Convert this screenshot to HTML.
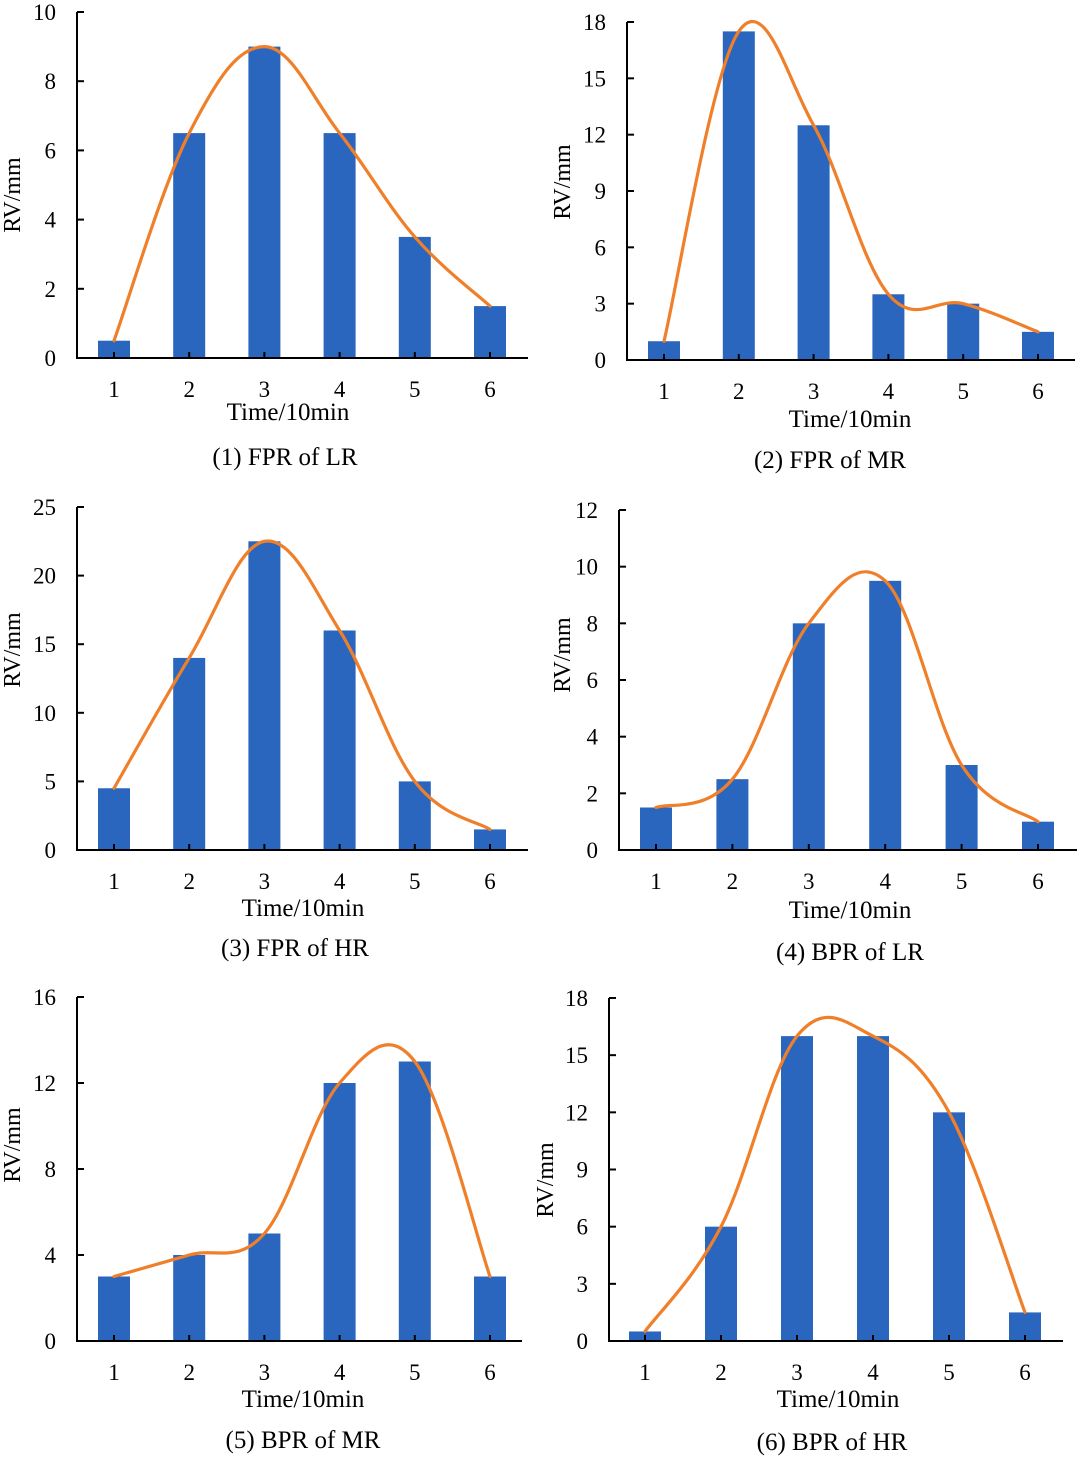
<!DOCTYPE html>
<html><head><meta charset="utf-8"><style>
html,body{margin:0;padding:0;background:#fff;}
svg{display:block;font-family:"Liberation Serif",serif;}
</style></head><body>
<svg id="chart" width="1080" height="1457" viewBox="0 0 1080 1457" xmlns="http://www.w3.org/2000/svg"></svg>
<script>
const categories = ["1","2","3","4","5","6"];
const seriesFPR_LR = [0.5, 6.5, 9, 6.5, 3.5, 1.5];
const seriesFPR_MR = [1, 17.5, 12.5, 3.5, 3, 1.5];
const seriesFPR_HR = [4.5, 14, 22.5, 16, 5, 1.5];
const seriesBPR_LR = [1.5, 2.5, 8, 9.5, 3, 1];
const seriesBPR_MR = [3, 4, 5, 12, 13, 3];
const seriesBPR_HR = [0.5, 6, 16, 16, 12, 1.5];
const ticksFPR_LR = [0, 2, 4, 6, 8, 10];
const ticksFPR_MR = [0, 3, 6, 9, 12, 15, 18];
const ticksFPR_HR = [0, 5, 10, 15, 20, 25];
const ticksBPR_LR = [0, 2, 4, 6, 8, 10, 12];
const ticksBPR_MR = [0, 4, 8, 12, 16];
const ticksBPR_HR = [0, 3, 6, 9, 12, 15, 18];
const captions = ["(1) FPR of LR","(2) FPR of MR","(3) FPR of HR","(4) BPR of LR","(5) BPR of MR","(6) BPR of HR"];

const panels = [
 {vals:seriesFPR_LR,ticks:ticksFPR_LR,ax:77,top:12,bot:358,right:528,c0:114,step:75.2,yt:[12,195],xt:[288,411],cap:[285,456]},
 {vals:seriesFPR_MR,ticks:ticksFPR_MR,ax:627,top:22,bot:360,right:1075,c0:664,step:74.8,yt:[562,182],xt:[850,418],cap:[830,459]},
 {vals:seriesFPR_HR,ticks:ticksFPR_HR,ax:77,top:507,bot:850,right:528,c0:114,step:75.2,yt:[12,650],xt:[303,907],cap:[295,947]},
 {vals:seriesBPR_LR,ticks:ticksBPR_LR,ax:619,top:510,bot:850,right:1077,c0:656,step:76.4,yt:[562,655],xt:[850,909],cap:[850,951]},
 {vals:seriesBPR_MR,ticks:ticksBPR_MR,ax:77,top:997,bot:1341,right:522,c0:114,step:75.2,yt:[12,1145],xt:[303,1398],cap:[303,1439]},
 {vals:seriesBPR_HR,ticks:ticksBPR_HR,ax:609,top:998,bot:1341,right:1063,c0:645,step:76,yt:[545,1180],xt:[838,1398],cap:[832,1441]}
];
const svg = document.getElementById('chart');
const NS = "http://www.w3.org/2000/svg";
function mk(tag, attrs, parent){const e=document.createElementNS(NS,tag);for(const k in attrs)e.setAttribute(k,attrs[k]);parent.appendChild(e);return e;}

panels.forEach((p,i)=>{
  const g = mk('g',{},svg);
  
  
  const ymax = p.ticks[p.ticks.length-1];
  const y = v => p.bot - v/ymax*(p.bot-p.top);
  const x = k => p.c0 + k*p.step;
  p.vals.forEach((v,k)=>{
    const r = mk('rect',{x:x(k)-16,y:y(v),width:32,height:p.bot-y(v),fill:'#2a66be'},g);
    
    
  });
  const ax = mk('path',{d:`M${p.ax},${p.top} V${p.bot} H${p.right}`,stroke:'#000','stroke-width':2,fill:'none'},g);
  
  
  p.ticks.forEach(t=>{
    mk('line',{x1:p.ax,x2:p.ax+7,y1:y(t),y2:y(t),stroke:'#000','stroke-width':2},g);
    const tl = mk('text',{x:p.ax-21,y:y(t)+8,'text-anchor':'end','font-size':23},g);
    tl.textContent=t;
    
    
  });
  categories.forEach((c,k)=>{
    mk('line',{x1:x(k),x2:x(k),y1:p.bot,y2:p.bot-6,stroke:'#000','stroke-width':2},g);
    const tl = mk('text',{x:x(k),y:p.bot+39,'text-anchor':'middle','font-size':23},g);
    tl.textContent=c;
    
    
  });
  const pts = p.vals.map((v,k)=>[x(k),y(v)]);
  let d = `M${pts[0][0]},${pts[0][1]}`;
  for(let k=0;k<pts.length-1;k++){
    const p0=pts[k-1]||pts[k], p1=pts[k], p2=pts[k+1], p3=pts[k+2]||p2;
    const t=0.18;
    d+=` C${p1[0]+(p2[0]-p0[0])*t},${p1[1]+(p2[1]-p0[1])*t} ${p2[0]-(p3[0]-p1[0])*t},${p2[1]-(p3[1]-p1[1])*t} ${p2[0]},${p2[1]}`;
  }
  const cv = mk('path',{d:d,stroke:'#f07f2a','stroke-width':3.2,fill:'none','stroke-linecap':'round'},g);
  
  
  const yt = mk('text',{x:0,y:0,transform:`translate(${p.yt[0]+8},${p.yt[1]}) rotate(-90)`,'text-anchor':'middle','font-size':24},g);
  yt.textContent='RV/mm';
  
  
  const xt = mk('text',{x:p.xt[0],y:p.xt[1]+9,'text-anchor':'middle','font-size':25},g);
  xt.textContent='Time/10min';
  
  
  const cp = mk('text',{x:p.cap[0],y:p.cap[1]+9,'text-anchor':'middle','font-size':25},g);
  cp.textContent=captions[i];
  
  
});
</script>
</body></html>
